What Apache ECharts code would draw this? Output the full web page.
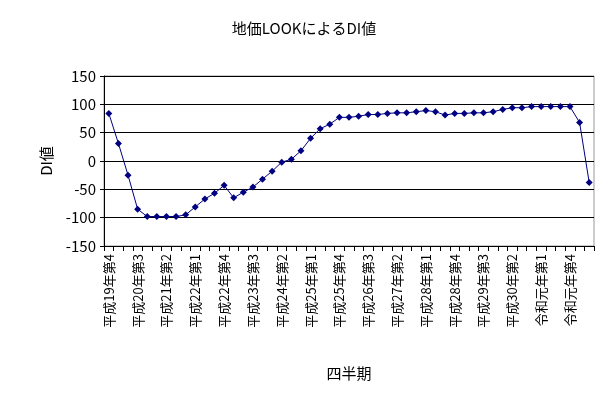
<!DOCTYPE html>
<html>
<head>
<meta charset="utf-8">
<script src="https://cdn.jsdelivr.net/npm/echarts@6/dist/echarts.min.js"></script>
<style>body{margin:0;background:#fff}#container{width:608px;height:400px}</style>
</head>
<body>
<div id="container"></div>
<script>
// 四半期: 平成19年第4 ～ 令和2年第2
var quarters = [];
(function(){
    var y = 19, q = 4;
    for (var i = 0; i < 51; i++) {
        var yn = y <= 30 ? '平成' + y + '年第' : (y === 31 ? '令和元年第' : '令和' + (y - 30) + '年第');
        quarters.push(yn + q);
        q++; if (q > 4) { q = 1; y++; }
    }
})();
var diValues = [84, 31, -25, -85, -98, -98, -98, -98, -95, -81,
    -67, -57, -43, -65, -55, -46, -32, -18, -2, 3,
    18, 40, 57, 65, 77, 77, 79, 82, 82, 84,
    85, 85, 87, 89, 87, 81, 84, 84, 85, 85,
    87, 91, 94, 94, 96, 96, 96, 96, 96, 68, -38];
var yTicks = [-150, 150, 50];

var myChart = echarts.init(document.getElementById('container'));
var font = '"Noto Sans CJK JP", sans-serif';
var option = {
    backgroundColor: '#fff',
    title: {
        text: '地価LOOKによるDI値',
        left: 'center', top: 16,
        textStyle: {fontFamily: font, fontSize: 15, fontWeight: 'normal', color: '#000'}
    },
    grid: {left: 104, right: 14, top: 76, bottom: 154, show: true, borderColor: '#999', borderWidth: 1},
    xAxis: {
        type: 'category',
        data: quarters,
        boundaryGap: true,
        name: '四半期', nameLocation: 'middle', nameGap: 120,
        nameTextStyle: {fontFamily: font, fontSize: 15, color: '#000'},
        axisLine: {onZero: false, lineStyle: {color: '#000'}},
        axisTick: {show: true, interval: 0, length: 5, lineStyle: {color: '#000'}},
        axisLabel: {interval: 2, rotate: 90, fontFamily: font, fontSize: 13, color: '#000', margin: 8},
        splitLine: {show: false}
    },
    yAxis: {
        type: 'value',
        min: yTicks[0], max: yTicks[1], interval: yTicks[2],
        name: 'DI値', nameLocation: 'middle', nameGap: 50,
        nameTextStyle: {fontFamily: font, fontSize: 15, color: '#000'},
        axisLine: {show: true, lineStyle: {color: '#000'}},
        axisTick: {show: true, length: 4, lineStyle: {color: '#000'}},
        axisLabel: {fontFamily: font, fontSize: 15, color: '#000'},
        splitLine: {lineStyle: {color: '#000', width: 1}}
    },
    series: [{
        name: 'DI値',
        type: 'line',
        data: diValues,
        symbol: 'diamond',
        symbolSize: 7,
        showAllSymbol: true,
        itemStyle: {color: '#000080'},
        lineStyle: {color: '#000080', width: 1},
        animation: false
    }]
};
myChart.setOption(option);
</script>
</body>
</html>
